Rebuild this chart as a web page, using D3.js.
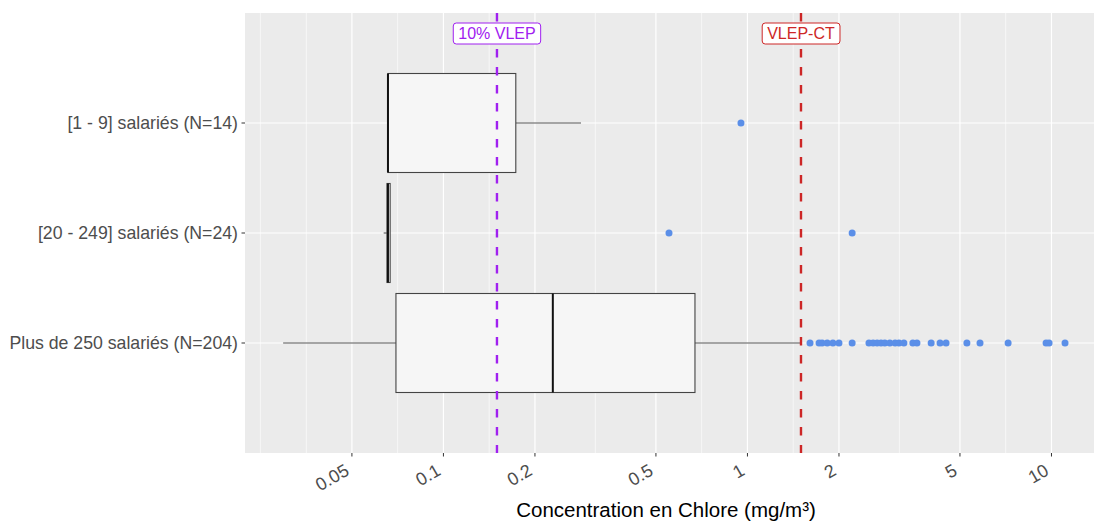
<!DOCTYPE html>
<html><head><meta charset="utf-8">
<script src="https://cdn.jsdelivr.net/npm/d3@7"></script>
<style>body{margin:0;background:#fff} svg{display:block} text{font-family:"Liberation Sans",Arial,sans-serif}</style>
</head><body><svg id="chart" width="1094" height="522"></svg>
<script>
const categories = ["[1 - 9] salariés (N=14)", "[20 - 249] salariés (N=24)", "Plus de 250 salariés (N=204)"];
const whiskerLow = [0.0657, 0.0636, 0.0297];
const q1 = [0.0657, 0.0652, 0.0698];
const median = [0.0657, 0.0657, 0.229];
const q3 = [0.173, 0.0668, 0.672];
const whiskerHigh = [0.2835, 0.0668, 1.49];
const outliers1 = [0.952];
const outliers2 = [0.552, 2.21];
const outliers3 = [1.606, 1.72, 1.76, 1.83, 1.91, 2.00, 2.21, 2.51, 2.59, 2.67, 2.75, 2.83, 2.94, 3.06, 3.15, 3.27, 3.50, 3.61, 4.02, 4.30, 4.50, 5.27, 5.82, 7.20, 9.60, 9.82, 11.08];
const xTicks = [0.05, 0.1, 0.2, 0.5, 1, 2, 5, 10];
const xTickLabels = ["0.05", "0.1", "0.2", "0.5", "1", "2", "5", "10"];
const xMinor = [0.025, 0.0354, 0.0707, 0.1414, 0.316, 0.707, 1.414, 3.16, 7.07];
const refValues = [0.15, 1.5];
const refLabels = ["10% VLEP", "VLEP-CT"];
const refColors = ["#a020f0", "#cd2626"];
const xTitle = "Concentration en Chlore (mg/m³)";

const outliers = [outliers1, outliers2, outliers3];
const svg = d3.select("#chart");
const P = {l: 245, r: 1094, t: 13, b: 453};

const x = d3.scaleLog().domain([0.02225, 13.8]).range([P.l, P.r]);
const y = d3.scalePoint().domain(categories).range([P.t, P.b]).padding(1);
const bw = y.step() * 0.9;

svg.append("defs").append("clipPath").attr("id", "clip")
  .append("rect").attr("x", P.l).attr("y", P.t).attr("width", P.r - P.l).attr("height", P.b - P.t);

svg.append("rect").attr("x", P.l).attr("y", P.t).attr("width", P.r - P.l).attr("height", P.b - P.t).attr("fill", "#ebebeb");

const g = svg.append("g").attr("clip-path", "url(#clip)");
g.selectAll(".minor").data(xMinor).join("line")
  .attr("x1", d => x(d)).attr("x2", d => x(d)).attr("y1", P.t).attr("y2", P.b)
  .attr("stroke", "#fff").attr("stroke-width", 0.6);
g.selectAll(".major").data(xTicks).join("line")
  .attr("x1", d => x(d)).attr("x2", d => x(d)).attr("y1", P.t).attr("y2", P.b)
  .attr("stroke", "#fff").attr("stroke-width", 1.2);
g.selectAll(".hmajor").data(categories).join("line")
  .attr("x1", P.l).attr("x2", P.r).attr("y1", d => y(d)).attr("y2", d => y(d))
  .attr("stroke", "#fff").attr("stroke-width", 1.2);

// boxes
categories.forEach((c, i) => {
  const cy = y(c);
  const bg = g.append("g");
  bg.append("line").attr("x1", x(whiskerLow[i])).attr("x2", x(q1[i])).attr("y1", cy).attr("y2", cy)
    .attr("stroke", "#555").attr("stroke-width", 1.1);
  bg.append("line").attr("x1", x(q3[i])).attr("x2", x(whiskerHigh[i])).attr("y1", cy).attr("y2", cy)
    .attr("stroke", "#555").attr("stroke-width", 1.1);
  bg.append("rect").attr("x", x(q1[i])).attr("y", cy - bw / 2)
    .attr("width", Math.max(0, x(q3[i]) - x(q1[i]))).attr("height", bw)
    .attr("fill", "#f6f6f6").attr("stroke", "#444").attr("stroke-width", 1.1);
  bg.append("line").attr("x1", x(median[i])).attr("x2", x(median[i])).attr("y1", cy - bw / 2).attr("y2", cy + bw / 2)
    .attr("stroke", "#111").attr("stroke-width", 2);
  bg.selectAll("circle").data(outliers[i]).join("circle")
    .attr("cx", d => x(d)).attr("cy", cy).attr("r", 3.5).attr("fill", "#5b8fe8");
});

// reference lines
g.selectAll(".ref").data(refValues).join("line")
  .attr("x1", d => x(d)).attr("x2", d => x(d)).attr("y1", P.t).attr("y2", P.b)
  .attr("stroke", (d, i) => refColors[i]).attr("stroke-width", 2.4).attr("stroke-dasharray", "8.5,9.5");

refValues.forEach((v, i) => {
  const lg = svg.append("g");
  const t = lg.append("text").attr("x", x(v)).attr("y", 39).attr("text-anchor", "middle")
    .attr("font-size", 16).attr("fill", refColors[i]).text(refLabels[i]);
  const bb = t.node().getBBox();
  lg.insert("rect", "text").attr("x", bb.x - 5).attr("y", 23).attr("width", bb.width + 10).attr("height", 21)
    .attr("rx", 3).attr("fill", "#fff").attr("stroke", refColors[i]).attr("stroke-width", 1);
});

// x axis
const xa = svg.append("g");
xa.selectAll("line").data(xTicks).join("line")
  .attr("x1", d => x(d)).attr("x2", d => x(d)).attr("y1", P.b).attr("y2", P.b + 3.5)
  .attr("stroke", "#333").attr("stroke-width", 1);
xa.selectAll("text").data(xTicks).join("text")
  .attr("transform", d => `translate(${x(d) - 1.5},${P.b + 21}) rotate(-30)`)
  .attr("text-anchor", "end").attr("font-size", 18).attr("fill", "#4d4d4d")
  .text((d, i) => xTickLabels[i]);
svg.append("text").attr("x", (P.l + 1087) / 2).attr("y", 517).attr("text-anchor", "middle")
  .attr("font-size", 20.5).attr("fill", "#000").text(xTitle);

// y axis
const ya = svg.append("g");
ya.selectAll("line").data(categories).join("line")
  .attr("x1", P.l - 3.5).attr("x2", P.l).attr("y1", d => y(d)).attr("y2", d => y(d))
  .attr("stroke", "#333").attr("stroke-width", 1);
ya.selectAll("text").data(categories).join("text")
  .attr("x", P.l - 7).attr("y", d => y(d)).attr("dy", "0.35em").attr("text-anchor", "end")
  .attr("font-size", 17.7).attr("fill", "#4d4d4d").text(d => d);
</script></body></html>
